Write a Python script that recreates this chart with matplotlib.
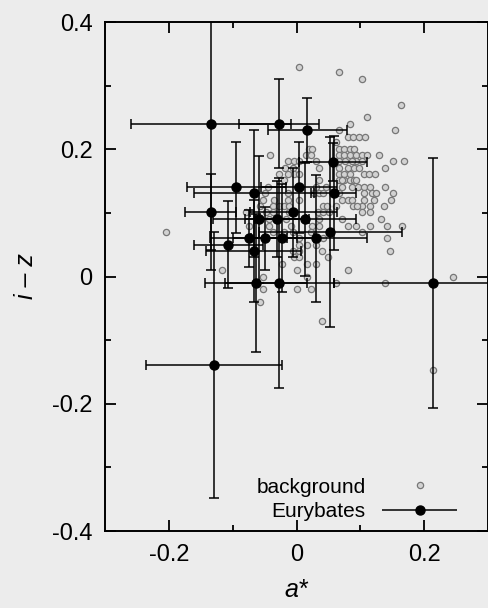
import matplotlib
matplotlib.use("Agg")
import matplotlib.pyplot as plt
from matplotlib.lines import Line2D
from matplotlib.legend_handler import HandlerErrorbar

plt.rcParams['font.family'] = ['Liberation Sans', 'DejaVu Sans']

# ---- background objects (a*, i-z) ----
bg_x = [0.004, 0.066, 0.102, 0.164, 0.110, 0.084, 0.066, 0.155,
        0.080, 0.089, 0.098, 0.107, 0.062,
        0.019, 0.025, 0.067, 0.075, 0.084, 0.090,
        -0.041, 0.015, 0.022, 0.067, 0.075, 0.084, 0.093, 0.102, 0.110, 0.129,
        -0.014, -0.004, 0.004, 0.030, 0.067, 0.076, 0.093, 0.102, 0.151, 0.169, 0.0875,
        -0.018, -0.005, 0.035, 0.067, 0.080, 0.090, 0.098, 0.138,
        -0.027, -0.014, -0.004, 0.004, 0.067, 0.075, 0.084, 0.105, 0.114, 0.1225,
        -0.019, 0.035, 0.067, 0.075, 0.084, 0.090, 0.072, 0.093,
        -0.045, 0.0, 0.030, 0.046, 0.0875, 0.096, 0.105, 0.115, 0.138, 0.072,
        -0.050, -0.014, 0.028, 0.035, 0.067, 0.105, 0.119, 0.125, 0.151, 0.042,
        -0.053, -0.036, -0.014, 0.004, 0.071, 0.080, 0.0875, 0.121, 0.1475, 0.106,
        -0.057, -0.0375, -0.028, -0.019, -0.011, 0.041, 0.048, 0.062, 0.089, 0.103, 0.115, 0.1375, 0.094,
        -0.079, -0.048, -0.0375, -0.0125, 0.034, 0.103, 0.115, 0.041, 0.051,
        -0.043, -0.017, 0.035, 0.133, 0.072,
        -0.075, -0.043, -0.009, 0.025, 0.080, 0.093, 0.115, 0.142, 0.165, 0.035,
        -0.204, -0.0375, -0.019, -0.006, 0.0225, 0.103,
        0.004, 0.041, 0.142,
        0.004, 0.017, 0.031,
        -0.005, 0.004, 0.040, 0.146,
        -0.004, 0.004, 0.050,
        -0.022, 0.017, 0.031,
        -0.116, 0.0, 0.080,
        -0.053, 0.017, 0.245,
        0.062, 0.138,
        -0.053, 0.0, 0.0225,
        -0.057, 0.040, 0.214]
bg_y = [0.330, 0.321, 0.310, 0.270, 0.250, 0.240, 0.230, 0.230,
        0.220, 0.220, 0.220, 0.220, 0.211,
        0.200, 0.200, 0.200, 0.200, 0.200, 0.200,
        0.191, 0.191, 0.191, 0.191, 0.191, 0.191, 0.191, 0.191, 0.191, 0.191,
        0.181, 0.181, 0.181, 0.181, 0.181, 0.181, 0.181, 0.181, 0.181, 0.181, 0.181,
        0.171, 0.171, 0.171, 0.171, 0.171, 0.171, 0.171, 0.171,
        0.161, 0.161, 0.161, 0.161, 0.161, 0.161, 0.161, 0.161, 0.161, 0.161,
        0.152, 0.152, 0.152, 0.152, 0.152, 0.152, 0.152, 0.152,
        0.141, 0.141, 0.141, 0.141, 0.141, 0.141, 0.141, 0.141, 0.141, 0.141,
        0.131, 0.131, 0.131, 0.131, 0.131, 0.131, 0.131, 0.131, 0.131, 0.131,
        0.121, 0.121, 0.121, 0.121, 0.121, 0.121, 0.121, 0.121, 0.121, 0.121,
        0.111, 0.111, 0.111, 0.111, 0.111, 0.111, 0.111, 0.111, 0.111, 0.111, 0.111, 0.111, 0.111,
        0.101, 0.101, 0.101, 0.101, 0.101, 0.101, 0.101, 0.101, 0.101,
        0.090, 0.090, 0.090, 0.090, 0.090,
        0.080, 0.080, 0.080, 0.080, 0.080, 0.080, 0.080, 0.080, 0.080, 0.080,
        0.070, 0.070, 0.070, 0.070, 0.070, 0.070,
        0.060, 0.060, 0.060,
        0.050, 0.050, 0.050,
        0.040, 0.040, 0.040, 0.040,
        0.030, 0.030, 0.030,
        0.020, 0.020, 0.020,
        0.011, 0.011, 0.011,
        0.000, 0.000, 0.000,
        -0.010, -0.010,
        -0.020, -0.020, -0.020,
        -0.040, -0.070, -0.147]

# ---- Eurybates family members ----
eur_x = [-0.134, -0.0275, 0.017, -0.094, -0.067, 0.004, 0.057, 0.058,
         -0.005, 0.0136, -0.031, -0.058, 0.053, -0.075, -0.049, -0.022,
         0.031, -0.067, -0.063, -0.027, 0.214, -0.134, -0.107, -0.129]
eur_y = [0.240, 0.240, 0.230, 0.140, 0.131, 0.140, 0.180, 0.131,
         0.101, 0.090, 0.090, 0.090, 0.070, 0.060, 0.060, 0.060,
         0.060, 0.0405, -0.010, -0.010, -0.010, 0.101, 0.050, -0.139]
eur_xerr = [0.125, 0.0625, 0.062, 0.077, 0.094, 0.060, 0.053, 0.035,
            0.068, 0.079, 0.050, 0.073, 0.112, 0.060, 0.050, 0.050,
            0.080, 0.074, 0.080, 0.085, 0.155, 0.040, 0.054, 0.107]
eur_yerr = [0.230, 0.070, 0.050, 0.071, 0.100, 0.071, 0.030, 0.090,
            0.070, 0.089, 0.060, 0.100, 0.150, 0.045, 0.050, 0.085,
            0.100, 0.080, 0.109, 0.165, 0.197, 0.060, 0.068, 0.209]

bgc = '#ececec'
fig = plt.figure(figsize=(4.89, 6.08), dpi=100, facecolor=bgc)
ax = fig.add_axes([0.2147, 0.1266, 0.7833, 0.8372], facecolor=bgc)

ax.plot(bg_x, bg_y, linestyle='none', marker='o', markersize=4.5,
        markerfacecolor='#d2d2d2', markeredgecolor='#777777', markeredgewidth=0.9,
        zorder=2)
ax.errorbar(eur_x, eur_y, xerr=eur_xerr, yerr=eur_yerr, fmt='o', color='black',
            markersize=6.5, elinewidth=1.1, capsize=3.5, capthick=1.1, zorder=3)

ax.set_xlim(-0.3, 0.3)
ax.set_ylim(-0.4, 0.4)
ax.set_xticks([-0.2, 0, 0.2])
ax.set_xticklabels(['-0.2', '0', '0.2'])
ax.set_yticks([-0.4, -0.2, 0, 0.2, 0.4])
ax.set_yticklabels(['-0.4', '-0.2', '0', '0.2', '0.4'])
ax.set_xticks([-0.1, 0.1], minor=True)
ax.set_yticks([-0.3, -0.1, 0.1, 0.3], minor=True)
ax.tick_params(which='both', direction='in', top=True, right=True, width=1.3,
               labelsize=17, pad=9)
ax.tick_params(which='major', length=8)
ax.tick_params(which='minor', length=4.5)
for s in ax.spines.values():
    s.set_linewidth(1.4)

ax.set_xlabel('a*', fontsize=18, style='italic', labelpad=9)
ax.set_ylabel('i – z', fontsize=18, style='italic', labelpad=10)

# legend
h_bg = Line2D([], [], linestyle='none', marker='o', markersize=4.5,
              markerfacecolor='#d2d2d2', markeredgecolor='#777777', markeredgewidth=0.9)
h_eu = ax.errorbar([], [], xerr=[], fmt='o', color='black', markersize=6.5,
                   elinewidth=1.1, capsize=3.5, capthick=1.1)
leg = ax.legend([h_bg, h_eu], ['background', 'Eurybates'], loc='lower right',
                bbox_to_anchor=(0.92, 0.02), frameon=False, markerfirst=False,
                fontsize=15, handlelength=3.6, handletextpad=0.8,
                labelspacing=0.25, borderaxespad=0, borderpad=0, numpoints=1,
                handler_map={type(h_eu): HandlerErrorbar(xerr_size=1.8)})

fig.savefig('out.png', dpi=100, facecolor=bgc)
